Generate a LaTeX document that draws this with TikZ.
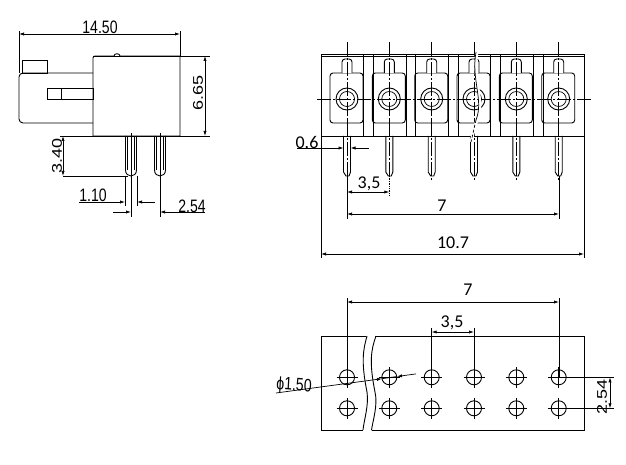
\documentclass[tikz,border=0pt]{standalone}
\usepackage{fontspec}
\setmainfont{Carlito}
\newfontfamily\cadfont{Liberation Sans}
\usetikzlibrary{arrows.meta}
\begin{document}
\begin{tikzpicture}[x=1pt,y=-1pt,line width=0.9pt,
  dim/.style={line width=0.7pt,{Latex[length=5pt,width=3.2pt]}-{Latex[length=5pt,width=3.2pt]}},
  lead/.style={line width=0.7pt,-{Latex[length=5pt,width=3.2pt]}},
  ext/.style={line width=0.7pt},
  center/.style={line width=0.7pt,dash pattern=on 14pt off 2pt on 2pt off 2pt},
  cadtext/.style={font=\cadfont\fontsize{18}{18}\selectfont,inner sep=0pt,xscale=0.78},
  dimtext/.style={font=\fontsize{18}{18}\selectfont,inner sep=0pt}]
\useasboundingbox (0,0) rectangle (626,465);
% side view
\draw[rounded corners=2pt] (93,136) -- (93,56) -- (114,56);
\draw (114,56) .. controls (114,53) and (120,53) .. (120,56) -- (180,56) -- (180,136) -- (93,136);
\draw (22,73) rectangle (47,60);
\draw[rounded corners=4pt] (93,73) -- (19,73) -- (19,123) -- (93,123);
\draw (47,88) rectangle (93,99) (61,88) -- (61,99);
\draw (60,136) -- (210,136);
\foreach \px in {131,160} {
  \draw (\px-5.5,136) -- (\px-5.5,170) .. controls (\px-5.5,178) and (\px+5.5,178) .. (\px+5.5,170) -- (\px+5.5,136);
  \draw[ext] (\px-3.5,136) -- (\px-3.5,170) (\px+3.5,136) -- (\px+3.5,170);
  \draw[ext] (\px,133) -- (\px,217);
}
\draw[ext] (19,31) -- (19,73) (180,31) -- (180,56) (93,56) -- (210,56);
\draw[dim] (19,34) -- (180,34);
\draw[dim] (205,56) -- (205,136);
\draw[dim] (63,136) -- (63,176);
\draw[ext] (63,176) -- (128,176);
\draw[ext] (125,176) -- (125,206) (137,176) -- (137,206);
\draw[lead] (79,202) -- (125,202);
\draw[lead] (155,202) -- (137,202);
\draw[lead] (113,212) -- (131,212);
\draw[lead] (205,212) -- (160,212);
\node[cadtext] (lenlabel) at (100,27) {14.50};
\node[cadtext,rotate=90] (heightlabel) at (198,93) {6.65};
\node[cadtext,rotate=90] (pinlabel) at (57,156) {3.40};
\node[cadtext] (pinwlabel) at (93,195) {1.10};
\node[cadtext] (pitchlabel) at (192,206) {2.54};
% front view
\draw (321,54) rectangle (584,136);
\draw (321,56) -- (584,56);
\foreach \sx in {363,373,406,415,448,458,490,500,533,543} {
  \draw (\sx,54) -- (\sx,136);
}
\foreach \cx in {347,389.3,431.7,474,516.3,558.7} {
  \draw[rounded corners=3pt] (\cx-17,123) rectangle (\cx+16,73);
  \draw[rounded corners=3pt,fill=white] (\cx-5,73) -- (\cx-5,59) -- (\cx+5,59) -- (\cx+5,73);
  \draw (\cx,99) circle (11);
  \draw[ext] (\cx,99) circle (7.5);
  \draw (\cx-3.5,136) -- (\cx-3.5,172) -- (\cx-1,176) -- (\cx+2,176) -- (\cx+3.5,172) -- (\cx+3.5,136);
  \draw[ext] (\cx,120) -- (\cx,136);
  \draw[center] (\cx,42) -- (\cx,180);
}
\draw[center] (317,99) -- (592,99);
% break line in the front view
\draw[white,line width=3pt] (477,52) .. controls (472,80) and (485,100) .. (477,120) .. controls (474,128) and (473,134) .. (471,142);
\draw[ext] (476,52) .. controls (471,80) and (484,100) .. (476,120);
\draw[ext,densely dashed] (476,120) .. controls (474,128) and (473,134) .. (471,142);
\draw[ext] (321,136) -- (321,258) (584,136) -- (584,258);
\draw[ext] (347,176) -- (347,219) (559,176) -- (559,219);
\draw[ext,densely dotted] (389.3,176) -- (389.3,196);
\draw[lead] (297,148) -- (343.5,148);
\draw[lead] (369,148) -- (350.5,148);
\draw[dim] (347,192) -- (389.3,192);
\draw[dim] (347,214) -- (559,214);
\draw[dim] (321,254) -- (584,254);
\node[dimtext] (gaplabel) at (307,142) {0.6};
\node[dimtext] (steplabel) at (369,184) {3,5};
\node[dimtext] (spanlabel) at (442,206) {7};
\node[dimtext] (widthlabel) at (453,243) {10.7};
% bottom view
\draw (321,336) rectangle (584,430);
\fill[white] (376,334) -- (367,334) .. controls (363,350) and (361,362) .. (367,392) .. controls (369,405) and (364,420) .. (363,432) -- (371.5,432) .. controls (373,420) and (378,405) .. (375,392) .. controls (369,362) and (371,350) .. cycle;
\draw (367,336) .. controls (363,350) and (361,362) .. (367,392) .. controls (369,405) and (364,420) .. (363,430);
\draw (376,336) .. controls (371,350) and (369,362) .. (375,392) .. controls (378,405) and (373,420) .. (371.5,430);
\foreach \hx in {347,389.3,431.7,474,516.3,558.7} {
  \foreach \hy in {377.3,408.3} {
    \draw (\hx,\hy) circle (7.5);
    \draw[ext] (\hx-10.5,\hy) -- (\hx+10.5,\hy) (\hx,\hy-10.5) -- (\hx,\hy+10.5);
  }
}
\draw[ext] (347,298) -- (347,377) (559,298) -- (559,377);
\draw[ext] (431.7,328) -- (431.7,377) (474,328) -- (474,377);
\draw[ext] (559,377.3) -- (614,377.3) (559,408.3) -- (614,408.3);
\draw[dim] (347,302) -- (559,302);
\draw[dim] (431.7,332) -- (474,332);
\draw[dim] (610,377.3) -- (610,408.3);
\draw[lead] (276,393) -- (382,378.7);
\draw[lead] (416,373.9) -- (397,376.5);
\draw[ext] (382,378.7) -- (397,376.5);
\node[cadtext,rotate=-4] (holelabel) at (294,386) {ϕ1.50};
\node[dimtext] (holespan) at (468,290) {7};
\node[dimtext] (holestep) at (452,323) {3,5};
\node[cadtext,rotate=90] (rowlabel) at (602,397) {2.54};
\end{tikzpicture}
\end{document}
